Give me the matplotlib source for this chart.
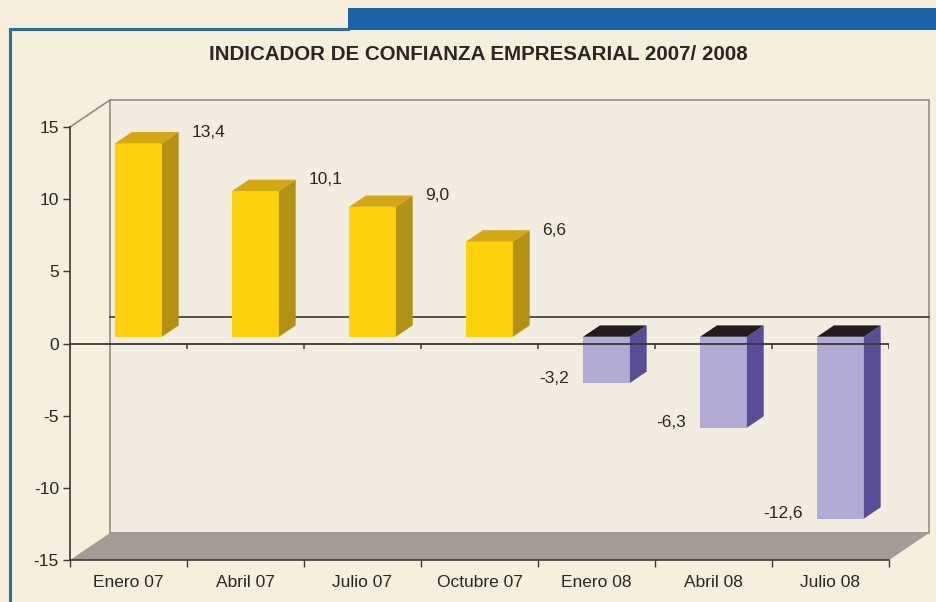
import matplotlib
matplotlib.use("Agg")
import matplotlib.pyplot as plt
from matplotlib.patches import Polygon, Rectangle
from matplotlib.lines import Line2D

categories = ["Enero 07", "Abril 07", "Julio 07", "Octubre 07", "Enero 08", "Abril 08", "Julio 08"]
values = [13.4, 10.1, 9.0, 6.6, -3.2, -6.3, -12.6]
value_labels = ["13,4", "10,1", "9,0", "6,6", "-3,2", "-6,3", "-12,6"]
y_ticks = [-15, -10, -5, 0, 5, 10, 15]

W, H = 936, 602
BG = "#f6efdb"
WALL = "#f2ede0"
FLOOR = "#a39b96"
EDGE = "#948c84"
DARK = "#3d3733"
TXT = "#2b2623"
FS = 12.5

plt.rcParams["font.family"] = ["Liberation Sans", "DejaVu Sans"]

fig = plt.figure(figsize=(W / 100, H / 100), dpi=100)
fig.patch.set_facecolor(BG)

# front frame of the chart: x 70..889 px, y 127..560 px
ax = fig.add_axes([70 / W, 42 / H, 819 / W, 433 / H])
n = len(categories)
ax.set_xlim(0, n)
ax.set_ylim(-15, 15)
ax.patch.set_visible(False)

# depth of the pseudo 3d box in data units (40 px right, 27 px up)
DX = 40 / 117
DY = 27 / (433 / 30)

# back wall, floor, side edge
ax.add_patch(Polygon([(DX, -15 + DY), (n + DX, -15 + DY), (n + DX, 15 + DY), (DX, 15 + DY)],
                     closed=True, facecolor=WALL, edgecolor=EDGE, lw=1.2, clip_on=False, zorder=0))
ax.add_patch(Polygon([(0, -15), (n, -15), (n + DX, -15 + DY), (DX, -15 + DY)],
                     closed=True, facecolor=FLOOR, edgecolor="none", clip_on=False, zorder=1))
ax.plot([0, DX], [15, 15 + DY], color=EDGE, lw=1.2, clip_on=False, zorder=1)
ax.plot([DX, n + DX], [DY, DY], color=DARK, lw=1.2, clip_on=False, zorder=1)

# bars
BW = 0.40
F0, F1 = 0.25, 0.67
D = F1 - F0
for i, (v, lab) in enumerate(zip(values, value_labels)):
    x0 = i + 0.5 - BW / 2 + F0 * DX
    yb = F0 * DY
    if v >= 0:
        front, side, top = "#fdd10c", "#b39213", "#d2a915"
        ytop = yb + v
    else:
        front, side, top = "#b2aad6", "#5a4d97", "#231c1e"
        ytop = yb
    ax.add_patch(Rectangle((x0, yb), BW, v, facecolor=front, edgecolor="none", zorder=3))
    ax.add_patch(Polygon([(x0 + BW, yb), (x0 + BW, yb + v),
                          (x0 + BW + D * DX, yb + v + D * DY), (x0 + BW + D * DX, yb + D * DY)],
                         closed=True, facecolor=side, edgecolor="none", zorder=3))
    ax.add_patch(Polygon([(x0, ytop), (x0 + BW, ytop),
                          (x0 + BW + D * DX, ytop + D * DY), (x0 + D * DX, ytop + D * DY)],
                         closed=True, facecolor=top, edgecolor="none", zorder=3))
    if v >= 0:
        ax.annotate(lab, xy=(x0 + BW + D * DX, yb + v + D * DY), xytext=(9, 0),
                    textcoords="offset points", ha="left", va="center", fontsize=FS, color=TXT)
    else:
        ax.annotate(lab, xy=(x0, yb + v), xytext=(-10, 3.5),
                    textcoords="offset points", ha="right", va="center", fontsize=FS, color=TXT)

# front zero line with ticks
ax.plot([0, n], [0, 0], color=DARK, lw=1.3, zorder=5)
ax.vlines(range(n + 1), 0, -0.4, color=DARK, lw=1.1, zorder=5)

# axes
for s in ("top", "right"):
    ax.spines[s].set_visible(False)
for s in ("left", "bottom"):
    ax.spines[s].set_color(DARK)
    ax.spines[s].set_linewidth(1.2)
ax.spines["bottom"].set_zorder(6)
ax.set_yticks(y_ticks)
ax.set_yticklabels([str(t) for t in y_ticks])
ax.set_xticks(range(n + 1))
ax.set_xticklabels([""] * (n + 1))
ax.set_xticks([i + 0.5 for i in range(n)], minor=True)
ax.set_xticklabels(categories, minor=True)
ax.tick_params(axis="y", direction="out", length=5, width=1, color=DARK, labelsize=FS, labelcolor=TXT, pad=3)
ax.tick_params(axis="x", which="major", direction="out", length=5, width=1, color=DARK)
ax.tick_params(axis="x", which="minor", length=0, labelsize=FS, labelcolor=TXT, pad=11)

fig.text(478 / W, 1 - 54 / H, "INDICADOR DE CONFIANZA EMPRESARIAL 2007/ 2008",
         ha="center", va="center", fontsize=14.8, fontweight="bold", color=TXT)

# blue page frame
BLUE = "#2f6aa6"
fig.add_artist(Line2D([10 / W, 10 / W], [0, 1 - 29 / H], transform=fig.transFigure, color=BLUE, lw=2.2))
fig.add_artist(Line2D([10 / W, 348 / W], [1 - 29 / H, 1 - 29 / H], transform=fig.transFigure, color=BLUE, lw=2.2))
fig.add_artist(Rectangle((348 / W, 1 - 30 / H), (W - 348) / W, 22 / H, transform=fig.transFigure,
                         facecolor="#1b62ab", edgecolor="none"))

fig.savefig("out.png", dpi=100, facecolor=BG)
